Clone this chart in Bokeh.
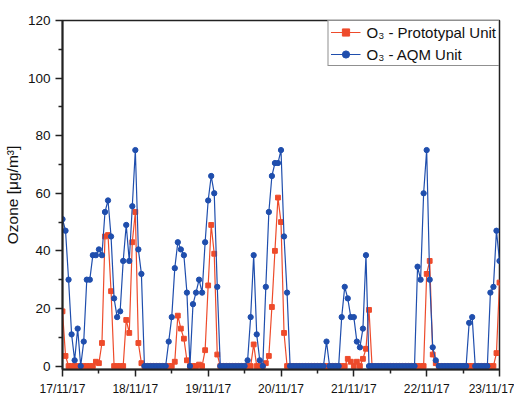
from bokeh.plotting import figure
from bokeh.models import Range1d, FixedTicker
from bokeh.embed import file_html
from bokeh.resources import INLINE

# ---- data (hourly samples from 17/11/17 00:00 to 23/11/17 00:00) ----
day_labels = ["17/11/17", "18/11/17", "19/11/17", "20/11/17", "21/11/17", "22/11/17", "23/11/17"]
hours = list(range(145))

aqm_unit = [
    51, 47, 30, 11, 2, 13, 0, 8.5, 30, 30, 38.5, 38.5, 40.5, 38.5, 53.5, 57.5, 45, 23.5, 17, 19, 36.5, 49, 36.5, 55.5,
    75, 40.5, 32, 0, 0, 0, 0, 0, 0, 0, 0, 8.5, 17, 34, 43, 40.5, 38.5, 25.5, 0, 21.5, 25.5, 30, 25.5, 43,
    57.5, 66, 60, 27.5, 0, 0, 0, 0, 0, 0, 0, 0, 0, 2, 17, 38.5, 11, 2, 0, 27.5, 53.5, 66, 70.5, 70.5,
    75, 45, 25.5, 0, 0, 0, 0, 0, 0, 0, 0, 0, 0, 0, 0, 8.5, 0, 0, 0, 0, 17, 27.5, 23.5, 17,
    17, 8.5, 6.5, 13, 38.5, 0, 0, 0, 0, 0, 0, 0, 0, 0, 0, 0, 0, 0, 0, 0, 0, 34.5, 30, 60,
    75, 30, 6.5, 2, 0, 0, 0, 0, 0, 0, 0, 0, 0, 0, 15, 17, 0, 0, 0, 0, 0, 25.5, 27.5, 47,
    36.5,
]

prototypal_unit = [
    19, 3.5, 0, 0, 0, 0, 0, 0, 0, 0, 0, 1.5, 1, 8, 45, 45.5, 26, 0, 0, 0, 0, 16, 11.5, 43,
    53.5, 8, 1, 0, 0, 0, 0, 0, 0, 0, 0, 0, 0, 1.5, 17.5, 13, 9.5, 2, 0, 0, 0, 0.5, 0, 5.5,
    28, 49, 39, 4, 0, 0, 0, 0, 0, 0, 0, 0, 0, 0, 0, 7.5, 0, 0, 0, 1, 3.5, 20.5, 40, 58.5,
    50, 11.5, 0, 0, 0, 0, 0, 0, 0, 0, 0, 0, 0, 0, 0, 0, 0, 0, 0, 0, 0, 0, 2.5, 1.5,
    0, 1.5, 0, 2.5, 6, 19.5, 0, 0, 0, 0, 0, 0, 0, 0, 0, 0, 0, 0, 0, 0, 0, 0, 0, 0,
    32, 36.5, 4, 1, 0, 0, 0, 0, 0, 0, 0, 0, 0, 0, 0, 0, 0, 0, 0, 0, 0, 0, 0, 4.5,
    29,
]

y_ticks = [0, 20, 40, 60, 80, 100, 120]

RED = "#EE4B2B"
BLUE = "#1F4EAD"
AXIS = "#222222"
FONT = "Liberation Sans"

p = figure(width=514, height=398, output_backend="svg", toolbar_location=None,
           title=None,
           x_range=Range1d(0, 144), y_range=Range1d(-1.2, 120),
           min_border_left=62, min_border_right=15, min_border_top=20,
           min_border_bottom=27)

p.background_fill_color = "white"
p.border_fill_color = "white"
p.outline_line_color = AXIS
p.outline_line_width = 1.5
p.xgrid.visible = False
p.ygrid.visible = False

# series (prototypal first, AQM on top)
p.line(hours, prototypal_unit, line_color=RED, line_width=1.2, legend_label="O₃ - Prototypal Unit")
p.scatter(hours, prototypal_unit, marker="square", size=4.8, fill_color=RED, line_color=RED,
          legend_label="O₃ - Prototypal Unit")
p.line(hours, aqm_unit, line_color=BLUE, line_width=1.2, legend_label="O₃ - AQM Unit")
p.scatter(hours, aqm_unit, marker="circle", size=5.3, fill_color=BLUE, line_color=BLUE,
          legend_label="O₃ - AQM Unit")

# x axis: days
day_ticks = [24 * k for k in range(len(day_labels))]
p.xaxis.ticker = FixedTicker(ticks=day_ticks, minor_ticks=[t + 12 for t in day_ticks[:-1]])
p.xaxis.major_label_overrides = {t: lab for t, lab in zip(day_ticks, day_labels)}

# y axis
p.yaxis.ticker = FixedTicker(ticks=y_ticks, minor_ticks=[t + 10 for t in y_ticks[:-1]])
p.yaxis.axis_label = "Ozone [μg/m³]"

for ax in (p.xaxis[0], p.yaxis[0]):
    ax.axis_line_color = AXIS
    ax.axis_line_width = 2
    ax.major_tick_line_color = AXIS
    ax.major_tick_line_width = 1.5
    ax.minor_tick_line_color = AXIS
    ax.minor_tick_line_width = 1.5
    ax.major_tick_in = 0
    ax.major_tick_out = 7
    ax.minor_tick_in = 0
    ax.minor_tick_out = 4
    ax.major_label_text_font = FONT
    ax.major_label_text_color = "#111111"
    ax.major_label_standoff = 5

p.xaxis.major_label_text_font_size = "12px"
p.yaxis.major_label_text_font_size = "13.5px"

p.yaxis.axis_label_text_font = FONT
p.yaxis.axis_label_text_font_size = "15.5px"
p.yaxis.axis_label_text_font_style = "normal"
p.yaxis.axis_label_text_color = "#111111"
p.yaxis.axis_label_standoff = 4

lg = p.legend[0]
lg.location = "top_right"
lg.margin = 0
lg.padding = 2
lg.spacing = 4
lg.glyph_width = 30
lg.glyph_height = 18
lg.label_height = 18
lg.label_standoff = 6
lg.label_text_font = FONT
lg.label_text_font_size = "15px"
lg.label_text_color = "#111111"
lg.border_line_color = AXIS
lg.border_line_width = 1
lg.background_fill_alpha = 1.0

open("out.html", "w").write(file_html(p, INLINE))
